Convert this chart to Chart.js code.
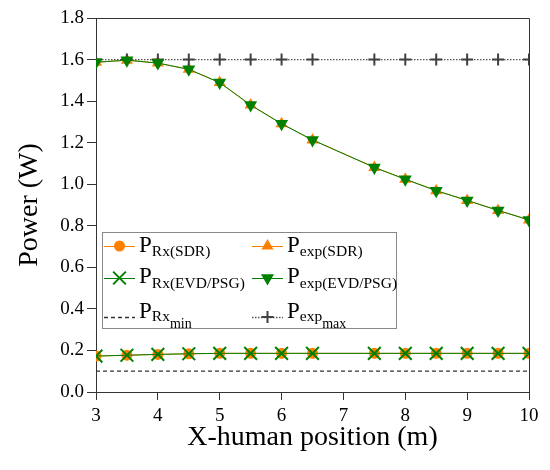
<!DOCTYPE html>
<html>
<head>
<meta charset="utf-8">
<script src="https://cdn.jsdelivr.net/npm/chart.js@4/dist/chart.umd.min.js"></script>
<style>
html,body{margin:0;padding:0;background:#fff;}
canvas{display:block;}
</style>
</head>
<body>
<canvas id="c" width="550" height="470"></canvas>
<script>
// ---- data ----
const positions = [3, 3.5, 4, 4.5, 5, 5.5, 6, 6.5, 7.5, 8, 8.5, 9, 9.5, 10];
const pRxSDR    = [0.173, 0.177, 0.181, 0.184, 0.186, 0.186, 0.186, 0.186, 0.186, 0.186, 0.186, 0.186, 0.186, 0.186];
const pExpSDR   = [1.587, 1.597, 1.583, 1.553, 1.489, 1.381, 1.291, 1.213, 1.081, 1.024, 0.969, 0.922, 0.874, 0.828];
const pRxEVD    = [0.173, 0.177, 0.181, 0.184, 0.186, 0.186, 0.186, 0.186, 0.186, 0.186, 0.186, 0.186, 0.186, 0.186];
const pExpEVD   = [1.587, 1.597, 1.583, 1.553, 1.489, 1.381, 1.291, 1.213, 1.081, 1.024, 0.969, 0.922, 0.874, 0.828];
const pRxMin    = 0.1;
const pExpMax   = 1.6;
const xTicks = [3, 4, 5, 6, 7, 8, 9, 10];
const yTicks = [0.0, 0.2, 0.4, 0.6, 0.8, 1.0, 1.2, 1.4, 1.6, 1.8];

const ORANGE = '#ff8000';
const GREEN = '#008000';
const SERIF = "'Liberation Serif', 'Times New Roman', serif";

const pts = (ys) => positions.map((x, i) => ({x: x, y: ys[i]}));
const constPts = (v) => positions.map(x => ({x: x, y: v}));

const datasets = [
  {key:'rxSDR', data: pts(pRxSDR), borderColor: ORANGE, backgroundColor: ORANGE, borderWidth: 1,
   pointStyle: 'circle', pointRadius: 5.5, pointBorderWidth: 0, order: 3,
   sub: 'Rx(SDR)'},
  {key:'expSDR', data: pts(pExpSDR), borderColor: ORANGE, backgroundColor: ORANGE, borderWidth: 1,
   pointStyle: 'triangle', pointRadius: 7, pointBorderWidth: 0, order: 3,
   sub: 'exp(SDR)'},
  {key:'rxEVD', data: pts(pRxEVD), borderColor: GREEN, backgroundColor: GREEN, borderWidth: 1,
   pointStyle: 'crossRot', pointRadius: 9, pointBorderWidth: 2, order: 1,
   sub: 'Rx(EVD/PSG)'},
  {key:'expEVD', data: pts(pExpEVD), borderColor: GREEN, backgroundColor: GREEN, borderWidth: 1,
   pointStyle: 'triangle', pointRotation: 180, pointRadius: 7.5, pointBorderWidth: 0, order: 1,
   sub: 'exp(EVD/PSG)'},
  {key:'rxMin', data: constPts(pRxMin), borderColor: '#333333', backgroundColor: '#333333', borderWidth: 1.3,
   borderDash: [4, 3], pointRadius: 0, order: 4,
   sub: 'Rx', subsub: 'min'},
  {key:'expMax', data: constPts(pExpMax), borderColor: '#555555', backgroundColor: '#404040', borderWidth: 1.3,
   borderDash: [1.5, 1.5], pointStyle: 'cross', pointRadius: 6, pointBorderWidth: 2,
   pointBorderColor: '#404040', order: 2,
   sub: 'exp', subsub: 'max'}
];
datasets.forEach(d => { d.tension = 0; d.fill = false; if (!d.pointBorderColor) d.pointBorderColor = d.borderColor; d.pointBackgroundColor = d.backgroundColor; });

function drawMarker(ctx, ds, x, y) {
  if (!ds.pointRadius) return;
  ctx.save();
  ctx.fillStyle = ds.pointBackgroundColor;
  ctx.strokeStyle = ds.pointBorderColor;
  ctx.lineWidth = ds.pointBorderWidth;
  ctx.setLineDash([]);
  Chart.helpers.drawPoint(ctx, {pointStyle: ds.pointStyle, radius: ds.pointRadius,
    rotation: ds.pointRotation || 0, borderWidth: ds.pointBorderWidth}, x, y);
  ctx.restore();
}

const framePlugin = {
  id: 'frame',
  afterDraw(chart) {
    const {ctx, chartArea: a} = chart;
    ctx.save();
    ctx.strokeStyle = '#333';
    ctx.lineWidth = 1;
    ctx.beginPath();
    ctx.moveTo(a.left, a.top + 0.5);
    ctx.lineTo(a.right + 0.5, a.top + 0.5);
    ctx.lineTo(a.right + 0.5, a.bottom);
    ctx.stroke();
    ctx.restore();
  }
};

const legendPlugin = {
  id: 'subLegend',
  afterDatasetsDraw(chart) {
    const ctx = chart.ctx;
    ctx.save();
    ctx.fillStyle = '#fff';
    ctx.fillRect(102.5, 232.5, 294, 96);
    ctx.strokeStyle = '#888';
    ctx.lineWidth = 1;
    ctx.strokeRect(102.5, 232.5, 294, 96);
    const cols = [{lx0: 104, lx1: 135, tx: 139}, {lx0: 252, lx1: 283, tx: 287}];
    const rows = [
      {my: 246, pb: 252, sb: 256, ssb: 0},
      {my: 278, pb: 283, sb: 288, ssb: 0},
      {my: 317, pb: 318, sb: 321, ssb: 328}
    ];
    datasets.forEach((ds, i) => {
      const c = cols[i % 2], r = rows[Math.floor(i / 2)];
      ctx.save();
      ctx.strokeStyle = ds.borderColor;
      ctx.lineWidth = ds.borderWidth;
      ctx.setLineDash(ds.borderDash || []);
      ctx.beginPath();
      ctx.moveTo(c.lx0, r.my + 0.5);
      ctx.lineTo(c.lx1, r.my + 0.5);
      ctx.stroke();
      ctx.restore();
      drawMarker(ctx, ds, (c.lx0 + c.lx1) / 2, r.my);
      ctx.fillStyle = '#000';
      ctx.textBaseline = 'alphabetic';
      ctx.textAlign = 'left';
      ctx.font = '23px ' + SERIF;
      ctx.fillText('P', c.tx, r.pb);
      let x = c.tx + ctx.measureText('P').width;
      ctx.font = '15.5px ' + SERIF;
      ctx.fillText(ds.sub, x, r.sb);
      x += ctx.measureText(ds.sub).width;
      if (ds.subsub) {
        ctx.font = '14px ' + SERIF;
        ctx.fillText(ds.subsub, x, r.ssb);
      }
    });
    ctx.restore();
  }
};

new Chart(document.getElementById('c'), {
  type: 'line',
  data: { datasets: datasets },
  options: {
    responsive: false,
    animation: false,
    layout: { padding: { top: 18, right: 21, left: 0, bottom: 0 } },
    plugins: { legend: { display: false }, tooltip: { enabled: false } },
    scales: {
      x: {
        type: 'linear', min: 3, max: 10,
        afterBuildTicks(s) { s.ticks = xTicks.map(v => ({value: v})); },
        afterFit(s) { s.height = 78; },
        ticks: { color: '#000', font: { family: SERIF, size: 19 }, padding: 5,
                 callback: v => String(v), maxRotation: 0, autoSkip: false },
        grid: { display: true, drawOnChartArea: false, drawTicks: true, tickLength: 8, color: '#333' },
        border: { display: true, color: '#333', width: 1 },
        title: { display: true, text: 'X-human position (m)', color: '#000',
                 font: { family: SERIF, size: 28 }, padding: { top: 0, bottom: 16 } }
      },
      y: {
        min: 0, max: 1.8,
        afterBuildTicks(s) { s.ticks = yTicks.map(v => ({value: v})); },
        afterFit(s) { s.width = 96; },
        ticks: { color: '#000', font: { family: SERIF, size: 19 }, padding: 3,
                 callback: v => Number(v).toFixed(1), autoSkip: false },
        grid: { display: true, drawOnChartArea: false, drawTicks: true, tickLength: 9, color: '#333' },
        border: { display: true, color: '#333', width: 1 },
        title: { display: true, text: 'Power (W)', color: '#000',
                 font: { family: SERIF, size: 28 }, padding: { top: 13, bottom: 0 } }
      }
    }
  },
  plugins: [framePlugin, legendPlugin]
});
</script>
</body>
</html>
